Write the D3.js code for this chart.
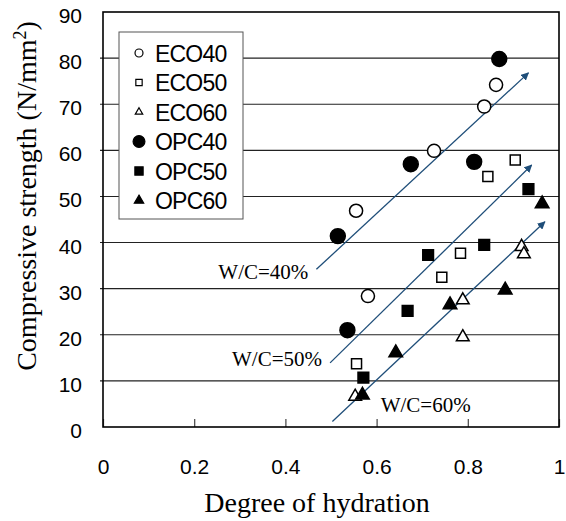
<!DOCTYPE html>
<html>
<head>
<meta charset="utf-8">
<script src="https://cdn.jsdelivr.net/npm/d3@7"></script>
<style>
  body { margin: 0; background: #fff; }
</style>
</head>
<body>
<div id="chart"></div>
<script>
// strength vs degree of hydration, ECO / OPC mixes at three W/C ratios
const seriesNames = ["ECO40", "ECO50", "ECO60", "OPC40", "OPC50", "OPC60"];

const eco40 = [[0.555, 46.9], [0.581, 28.4], [0.726, 59.9], [0.836, 69.5], [0.862, 74.2]];
const eco50 = [[0.556, 13.7], [0.743, 32.5], [0.784, 37.7], [0.844, 54.3], [0.904, 57.9]];
const eco60 = [[0.553, 6.6], [0.789, 19.5], [0.789, 27.5], [0.918, 39.1], [0.923, 37.5]];
const opc40 = [[0.515, 41.4], [0.536, 21.0], [0.675, 57.0], [0.814, 57.5], [0.869, 79.8]];
const opc50 = [[0.571, 10.7], [0.668, 25.2], [0.713, 37.3], [0.836, 39.5], [0.933, 51.6]];
const opc60 = [[0.569, 6.9], [0.642, 16.1], [0.761, 26.5], [0.882, 29.7], [0.963, 48.4]];

// trend arrows: [x0, y0, x1, y1]
const arrowNames = ["W/C=40%", "W/C=50%", "W/C=60%"];
const arrows = [
  [0.468, 34.2, 0.933, 76.8],
  [0.498, 13.9, 0.940, 56.8],
  [0.503, 1.2, 0.969, 44.5]
];
// label anchor points in data units (left edge, baseline)
const arrowLabels = [[0.253, 32.1], [0.283, 13.2], [0.609, 3.3]];

const xTicks = [0, 0.2, 0.4, 0.6, 0.8, 1];
const yTicks = [0, 10, 20, 30, 40, 50, 60, 70, 80, 90];

const allSeries = [eco40, eco50, eco60, opc40, opc50, opc60];
const shapes = [d3.symbolCircle, d3.symbolSquare, d3.symbolTriangle,
                d3.symbolCircle, d3.symbolSquare, d3.symbolTriangle];
const filled = [false, false, false, true, true, true];
const sizes = [135, 100, 70, 175, 115, 80];
const legendSizes = [50, 40, 24, 110, 68, 38];

const margin = { top: 12, right: 7, bottom: 94, left: 103 };
const width = 566 - margin.left - margin.right;
const height = 521 - margin.top - margin.bottom;

const svg = d3.select("#chart").append("svg")
  .attr("width", 566)
  .attr("height", 521);

const g = svg.append("g")
  .attr("transform", `translate(${margin.left},${margin.top})`);

const x = d3.scaleLinear().domain([0, 1]).range([0, width]);
const y = d3.scaleLinear().domain([0, 90]).range([height, 0]);

// gridlines
g.selectAll(".grid")
  .data(yTicks.filter(d => d > 0 && d < 90))
  .enter().append("line")
  .attr("x1", -3).attr("x2", width)
  .attr("y1", d => y(d)).attr("y2", d => y(d))
  .attr("stroke", "#222").attr("stroke-width", 1.1);

// x axis with inward ticks
const xAxis = g.append("g")
  .attr("transform", `translate(0,${height})`)
  .call(d3.axisBottom(x).tickValues(xTicks).tickSize(-8).tickPadding(32)
    .tickFormat(d => d === 0 || d === 1 ? d : d3.format(".1f")(d)));
xAxis.select(".domain").remove();
xAxis.selectAll("line").attr("stroke", "#444").attr("stroke-width", 1.2);
xAxis.selectAll("text")
  .attr("font-family", "Liberation Sans, Arial, sans-serif")
  .attr("font-size", 21).attr("fill", "#000");

const yAxis = g.append("g")
  .call(d3.axisLeft(y).tickValues(yTicks).tickSize(0).tickPadding(21));
yAxis.select(".domain").remove();
yAxis.selectAll("text")
  .attr("font-family", "Liberation Sans, Arial, sans-serif")
  .attr("font-size", 21).attr("fill", "#000")
  .attr("dy", "0.5em");

// plot frame
g.append("rect")
  .attr("width", width).attr("height", height)
  .attr("fill", "none").attr("stroke", "#000").attr("stroke-width", 1.6);

// arrows
svg.append("defs").append("marker")
  .attr("id", "head")
  .attr("viewBox", "0 0 10 10")
  .attr("refX", 9).attr("refY", 5)
  .attr("markerWidth", 8).attr("markerHeight", 8)
  .attr("markerUnits", "userSpaceOnUse")
  .attr("orient", "auto")
  .append("path").attr("d", "M0,0 L10,5 L0,10 Z").attr("fill", "#1f4e79");

g.selectAll(".arrow")
  .data(arrows)
  .enter().append("line")
  .attr("x1", d => x(d[0])).attr("y1", d => y(d[1]))
  .attr("x2", d => x(d[2])).attr("y2", d => y(d[3]))
  .attr("stroke", "#1f4e79").attr("stroke-width", 1.3)
  .attr("marker-end", "url(#head)");

g.selectAll(".wc")
  .data(arrowLabels)
  .enter().append("text")
  .attr("x", d => x(d[0])).attr("y", d => y(d[1]))
  .attr("font-family", "Liberation Serif, Times New Roman, serif")
  .attr("font-size", 21)
  .text((d, i) => arrowNames[i]);

// data points
allSeries.forEach((data, i) => {
  g.selectAll(".s" + i)
    .data(data)
    .enter().append("path")
    .attr("d", d3.symbol().type(shapes[i]).size(sizes[i]))
    .attr("transform", d => `translate(${x(d[0])},${y(d[1])})`)
    .attr("fill", filled[i] ? "#000" : "#fff")
    .attr("stroke", "#000").attr("stroke-width", 1.5);
});

// legend
const legend = g.append("g").attr("transform", "translate(16,20)");
legend.append("rect")
  .attr("width", 124).attr("height", 187)
  .attr("fill", "#fff").attr("stroke", "#555").attr("stroke-width", 1);

seriesNames.forEach((name, i) => {
  const row = legend.append("g").attr("transform", `translate(0,${21 + i * 29.5})`);
  row.append("path")
    .attr("d", d3.symbol().type(shapes[i]).size(legendSizes[i]))
    .attr("transform", "translate(20,0)")
    .attr("fill", filled[i] ? "#000" : "#fff")
    .attr("stroke", "#000").attr("stroke-width", 1.2);
  row.append("text")
    .attr("x", 36).attr("y", 8.5)
    .attr("font-family", "Liberation Sans, Arial, sans-serif")
    .attr("font-size", 23)
    .attr("letter-spacing", -0.8)
    .text(name);
});

// axis titles
svg.append("text")
  .attr("x", 317).attr("y", 512)
  .attr("text-anchor", "middle")
  .attr("font-family", "Liberation Serif, Times New Roman, serif")
  .attr("font-size", 28)
  .text("Degree of hydration");

const yTitle = svg.append("text")
  .attr("transform", `translate(36,${196}) rotate(-90)`)
  .attr("text-anchor", "middle")
  .attr("font-family", "Liberation Serif, Times New Roman, serif")
  .attr("font-size", 28);
yTitle.append("tspan").text("Compressive strength (N/mm");
yTitle.append("tspan").attr("font-size", 18).attr("dy", -10).text("2");
yTitle.append("tspan").attr("dy", 10).text(")");
</script>
</body>
</html>
